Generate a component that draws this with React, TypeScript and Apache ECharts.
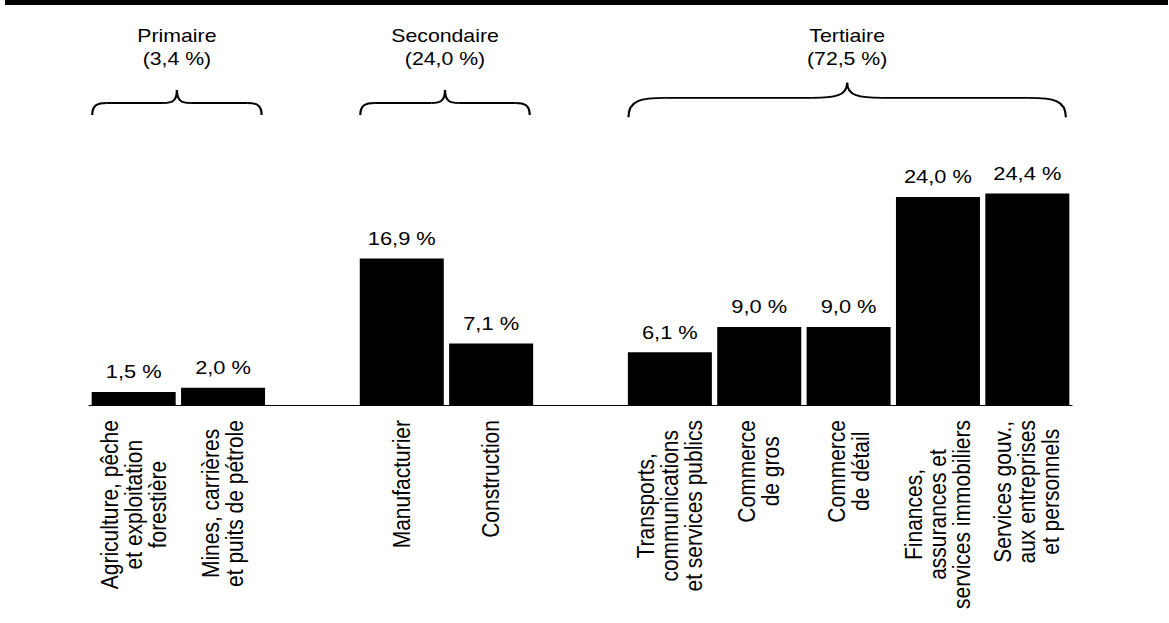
import React, { useEffect, useRef } from "react";
import * as echarts from "echarts";

const categories: string[] = [
  "Agriculture, pêche\net exploitation\nforestière",
  "Mines, carrières\net puits de pétrole",
  "",
  "Manufacturier",
  "Construction",
  "",
  "Transports,\ncommunications\net services publics",
  "Commerce\nde gros",
  "Commerce\nde détail",
  "Finances,\nassurances et\nservices immobiliers",
  "Services gouv.,\naux entreprises\net personnels",
];
const values: (number | string)[] = [1.5, 2.0, "-", 16.9, 7.1, "-", 6.1, 9.0, 9.0, 24.0, 24.4];

const groupNames = ["Primaire", "Secondaire", "Tertiaire"];
const groupShares = ["(3,4 %)", "(24,0 %)", "(72,5 %)"];
const groupFirst = [0, 3, 6];
const groupLast = [1, 4, 10];

const FONT = "'Liberation Sans', Arial, Helvetica, sans-serif";
const OUT_W = 1169;
const OUT_H = 623;
const CW = 1017; // inner chart width, stretched horizontally to OUT_W
const S = OUT_W / CW;

export default function App() {
  const ref = useRef<HTMLDivElement>(null);
  useEffect(() => {
    if (!ref.current) return;
    const chart = echarts.init(ref.current, undefined, { renderer: "svg" });
    const barFrac = 0.94;
    chart.setOption({
      animation: false,
      backgroundColor: "#ffffff",
      grid: { left: 89 / S, right: CW - 1072 / S, top: 145, bottom: 218, containLabel: false },
      xAxis: {
        type: "category",
        data: categories,
        axisLine: { show: true, lineStyle: { color: "#000", width: 1 } },
        axisTick: { show: false },
        axisLabel: {
          interval: 0,
          rotate: 90,
          margin: 15,
          hideOverlap: false,
          color: "#000",
          fontFamily: FONT,
          fontSize: 21,
          lineHeight: 21,
          formatter: (v: string) =>
            v ? v.split("\n").map((l) => `{c|${l}}`).join("\n") : "",
          rich: {
            c: { align: "center", fontSize: 21, lineHeight: 21, fontFamily: FONT, color: "#000" },
          },
        },
        splitLine: { show: false },
      },
      yAxis: {
        type: "value",
        min: 0,
        max: 30,
        show: false,
        splitLine: { show: false },
      },
      series: [
        {
          type: "bar",
          data: values,
          barWidth: `${barFrac * 100}%`,
          itemStyle: { color: "#000" },
          label: {
            show: true,
            position: "top",
            distance: 11,
            color: "#000",
            fontFamily: FONT,
            fontSize: 19,
            formatter: (p: any) => `${Number(p.value).toFixed(1).replace(".", ",")} %`,
          },
        },
      ],
    });

    const gridW = 1072 / S - 89 / S;
    const slot = gridW / categories.length;
    const half = (slot * barFrac) / 2;
    const graphics: any[] = [
      {
        type: "rect",
        shape: { x: 5 / S, y: 0, width: (1168 - 5) / S, height: 5 },
        style: { fill: "#000" },
      },
    ];
    const stroke = { stroke: "#000", lineWidth: 1.9, fill: "none" };
    groupNames.forEach((name, gi) => {
      const cFirst = chart.convertToPixel({ xAxisIndex: 0 }, groupFirst[gi]) as number;
      const cLast = chart.convertToPixel({ xAxisIndex: 0 }, groupLast[gi]) as number;
      const L = cFirst - half + 0.5;
      const R = cLast + half - 3;
      const c = (L + R) / 2;
      const W = R - L;
      const Wimg = W * S;
      const horizY = 103 - (Wimg - 167) * 0.019;
      const tipY = horizY - 13 - (Wimg - 167) * 0.008;
      const endY = 115 + (Wimg - 167) * 0.008;
      const e = 0.085 * W;
      const t = 0.08 * W;
      graphics.push(
        {
          type: "bezierCurve",
          shape: { x1: L, y1: endY, cpx1: L, cpy1: horizY + 2, cpx2: L + e * 0.35, cpy2: horizY, x2: L + e, y2: horizY },
          style: stroke,
        },
        {
          type: "line",
          shape: { x1: L + e, y1: horizY, x2: c - t, y2: horizY },
          style: stroke,
        },
        {
          type: "bezierCurve",
          shape: { x1: c - t, y1: horizY, cpx1: c - t * 0.35, cpy1: horizY, cpx2: c, cpy2: horizY - 2, x2: c, y2: tipY },
          style: stroke,
        },
        {
          type: "bezierCurve",
          shape: { x1: c + t, y1: horizY, cpx1: c + t * 0.35, cpy1: horizY, cpx2: c, cpy2: horizY - 2, x2: c, y2: tipY },
          style: stroke,
        },
        {
          type: "line",
          shape: { x1: R - e, y1: horizY, x2: c + t, y2: horizY },
          style: stroke,
        },
        {
          type: "bezierCurve",
          shape: { x1: R, y1: endY, cpx1: R, cpy1: horizY + 2, cpx2: R - e * 0.35, cpy2: horizY, x2: R - e, y2: horizY },
          style: stroke,
        },
        {
          type: "text",
          x: c,
          y: 47,
          style: {
            text: `${name}\n${groupShares[gi]}`,
            align: "center",
            verticalAlign: "middle",
            fill: "#000",
            fontFamily: FONT,
            fontSize: 18.5,
            lineHeight: 23,
          },
        }
      );
    });
    chart.setOption({ graphic: graphics });
    return () => chart.dispose();
  }, []);

  return (
    <div
      style={{
        position: "fixed",
        left: 0,
        top: 0,
        width: OUT_W,
        height: OUT_H,
        overflow: "hidden",
        background: "#fff",
      }}
    >
      <div
        ref={ref}
        style={{
          width: CW,
          height: OUT_H,
          transform: `scaleX(${S})`,
          transformOrigin: "0 0",
        }}
      />
    </div>
  );
}
